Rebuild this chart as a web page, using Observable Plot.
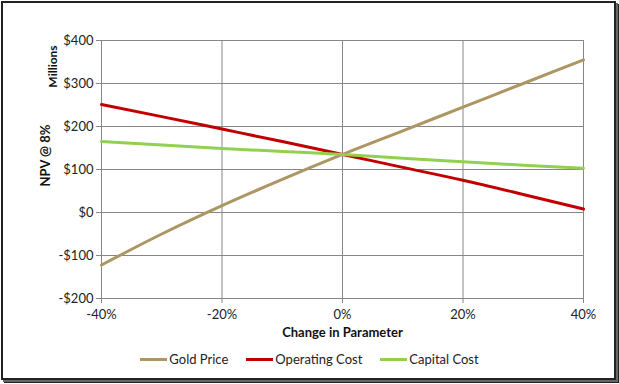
<!DOCTYPE html>
<html>
<head>
<meta charset="utf-8">
<script src="https://cdn.jsdelivr.net/npm/d3@7"></script>
<script src="https://cdn.jsdelivr.net/npm/@observablehq/plot@0.6"></script>
<style>
  html, body { margin: 0; padding: 0; background: #fff; }
  #wrap { position: relative; width: 619px; height: 384px; font-family: Lato, "Open Sans", sans-serif; }
  #border { position: absolute; left: 1px; top: 1px; width: 611px; height: 375px; border: 2px solid #222; box-shadow: 2px 2px 0 #666, 3px 3px 0 #222; }
  #chart { position: absolute; left: 0; top: 0; }
  #legend { position: absolute; left: 0; width: 619px; top: 351px; display: flex; justify-content: center; gap: 18px; font-size: 13px; color: #222; padding-left: 0px; }
  .item { display: flex; align-items: center; }
  .sw { width: 27px; height: 3px; margin-right: 2px; }
</style>
</head>
<body>
<div id="wrap">
  <div id="border"></div>
  <div id="chart"></div>
  <div id="legend"></div>
</div>
<script>
const changes = [-0.4, -0.3, -0.2, -0.1, 0, 0.1, 0.2, 0.3, 0.4];
const goldPrice = [-122, -50, 16, 77, 135, 190, 245, 300, 355];
const operatingCost = [251, 223, 194, 165, 135, 105, 75, 42, 8];
const capitalCost = [165, 157, 149, 142, 135, 126, 118, 110, 103];
const seriesNames = ["Gold Price", "Operating Cost", "Capital Cost"];
const seriesColors = ["#AD9663", "#C00000", "#92D050"];
const xTicks = [-0.4, -0.2, 0, 0.2, 0.4];
const yTicks = [-200, -100, 0, 100, 200, 300, 400];

const seriesValues = [goldPrice, operatingCost, capitalCost];
const data = [];
seriesNames.forEach((s, i) => changes.forEach((c, j) => data.push({series: s, change: c, npv: seriesValues[i][j]})));

const fmtY = v => (v < 0 ? "-$" : "$") + Math.abs(v);
const fmtX = v => Math.round(v * 100) + "%";

const chart = Plot.plot({
  width: 619,
  height: 345,
  marginLeft: 101,
  marginRight: 36,
  marginTop: 40,
  marginBottom: 47,
  style: {fontFamily: "Lato, 'Open Sans', sans-serif", fontSize: "13px", color: "#222", background: "transparent", overflow: "visible"},
  x: {domain: [-0.4, 0.4], ticks: xTicks, tickFormat: fmtX},
  y: {domain: [-200, 400], ticks: yTicks, tickFormat: fmtY},
  color: {domain: seriesNames, range: seriesColors},
  marks: [
    Plot.gridX(xTicks, {stroke: "#868686", strokeOpacity: 1, strokeWidth: 1}),
    Plot.gridY(yTicks, {stroke: "#868686", strokeOpacity: 1, strokeWidth: 1}),
    Plot.frame({stroke: "#868686"}),
    Plot.axisX({ticks: xTicks, tickFormat: fmtX, tickSize: 5, stroke: "#868686", tickPadding: 6, label: null, fontSize: 13}),
    Plot.axisY({ticks: yTicks, tickFormat: fmtY, tickSize: 5, stroke: "#868686", tickPadding: 3, label: null, fontSize: 13}),
    Plot.line(data, {x: "change", y: "npv", stroke: "series", z: "series", strokeWidth: 3, curve: "monotone-x"}),
    Plot.text(["Change in Parameter"], {frameAnchor: "bottom", dy: 38, fontWeight: "bold", fontSize: 13, fill: "#111"}),
    Plot.text(["NPV @ 8%"], {frameAnchor: "left", dx: -56, dy: 17, rotate: -90, fontWeight: "bold", fontSize: 13, fill: "#111"}),
    Plot.text(["Millions"], {frameAnchor: "top-left", dx: -53, dy: 26, rotate: -90, fontWeight: "bold", fontSize: 12, fill: "#111", textAnchor: "middle"})
  ]
});
document.getElementById("chart").appendChild(chart);

const legend = document.getElementById("legend");
seriesNames.forEach((s, i) => {
  const it = document.createElement("div");
  it.className = "item";
  const sw = document.createElement("div");
  sw.className = "sw";
  sw.style.background = seriesColors[i];
  const t = document.createElement("span");
  t.textContent = s;
  it.appendChild(sw); it.appendChild(t);
  legend.appendChild(it);
});
</script>
</body>
</html>
